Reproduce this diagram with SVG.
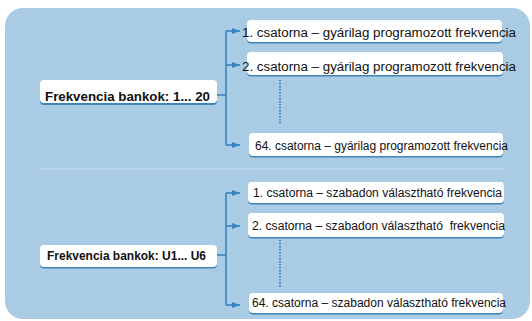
<svg xmlns="http://www.w3.org/2000/svg" width="532" height="321" viewBox="0 0 532 321">
<defs>
<style>
.bg{fill:#a9cbe4}
.sep{stroke:#c4dbed;stroke-width:1.5}
.box{fill:#ffffff}
.sh{fill:#3f86b8}
.t{font-family:"Liberation Sans",Arial,sans-serif;font-size:12px;fill:#111}
.b{font-family:"Liberation Sans",Arial,sans-serif;font-size:12px;font-weight:bold;fill:#111}
.ln{stroke:#3a84c0;stroke-width:1.6;fill:none}
.dot{stroke:#3d8ac6;stroke-width:2;stroke-dasharray:1.5 1.5;fill:none}
</style>
<marker id="ah" viewBox="0 0 8 6" refX="8" refY="3" markerWidth="8" markerHeight="6" markerUnits="userSpaceOnUse" orient="auto">
<path d="M0,0 L8,3 L0,6 Z" fill="#3a84c0"/>
</marker>
</defs>
<rect class="bg" x="5" y="8" width="525" height="311" rx="18"/>
<line class="sep" x1="40" y1="169" x2="503" y2="169"/>
<g id="connectors">
<path class="ln" d="M217,95 H226 M226,31 V145"/>
<path class="ln" d="M226,31 H240" marker-end="url(#ah)"/>
<path class="ln" d="M226,65 H240" marker-end="url(#ah)"/>
<path class="ln" d="M226,145 H240" marker-end="url(#ah)"/>
<path class="dot" d="M280,80 V125"/>
<path class="ln" d="M217,255 H226 M226,193 V305"/>
<path class="ln" d="M226,193 H240" marker-end="url(#ah)"/>
<path class="ln" d="M226,226 H240" marker-end="url(#ah)"/>
<path class="ln" d="M226,305 H240" marker-end="url(#ah)"/>
<path class="dot" d="M280,240 V287"/>
</g>
<g id="bank1">
<rect class="sh" x="40" y="82" width="177" height="23" rx="4"/>
<rect class="box" x="40" y="80" width="177" height="23" rx="4"/>
<text class="b" x="45" y="101" textLength="165" lengthAdjust="spacingAndGlyphs">Frekvencia bankok: 1... 20</text>
</g>
<g id="ch1a">
<rect class="sh" x="247" y="21.5" width="255" height="22" rx="4"/>
<rect class="box" x="247" y="20" width="255" height="22" rx="4"/>
<text class="t" x="242" y="37" textLength="274" lengthAdjust="spacingAndGlyphs">1. csatorna – gyárilag programozott frekvencia</text>
</g>
<g id="ch2a">
<rect class="sh" x="247" y="53.5" width="256" height="23" rx="4"/>
<rect class="box" x="247" y="52" width="256" height="23" rx="4"/>
<text class="t" x="242" y="71" textLength="274" lengthAdjust="spacingAndGlyphs">2. csatorna – gyárilag programozott frekvencia</text>
</g>
<g id="ch64a">
<rect class="sh" x="249" y="134.5" width="254" height="23" rx="4"/>
<rect class="box" x="249" y="133" width="254" height="23" rx="4"/>
<text class="t" x="255" y="150" textLength="253" lengthAdjust="spacingAndGlyphs">64. csatorna – gyárilag programozott frekvencia</text>
</g>
<g id="bank2">
<rect class="sh" x="40" y="246.5" width="177" height="22" rx="4"/>
<rect class="box" x="40" y="245" width="177" height="22" rx="4"/>
<text class="b" x="47" y="260" textLength="159" lengthAdjust="spacingAndGlyphs">Frekvencia bankok: U1... U6</text>
</g>
<g id="ch1b">
<rect class="sh" x="248" y="183.5" width="256" height="21" rx="4"/>
<rect class="box" x="248" y="182" width="256" height="21" rx="4"/>
<text class="t" x="253" y="197" textLength="249" lengthAdjust="spacingAndGlyphs">1. csatorna – szabadon választható frekvencia</text>
</g>
<g id="ch2b">
<rect class="sh" x="248" y="214.5" width="256" height="24" rx="4"/>
<rect class="box" x="248" y="213" width="256" height="24" rx="4"/>
<text class="t" x="252" y="230" textLength="253" lengthAdjust="spacingAndGlyphs" xml:space="preserve">2. csatorna – szabadon választható  frekvencia</text>
</g>
<g id="ch64b">
<rect class="sh" x="249" y="294.5" width="254" height="20" rx="4"/>
<rect class="box" x="249" y="293" width="254" height="20" rx="4"/>
<text class="t" x="252" y="307" textLength="254" lengthAdjust="spacingAndGlyphs">64. csatorna – szabadon választható frekvencia</text>
</g>
</svg>
